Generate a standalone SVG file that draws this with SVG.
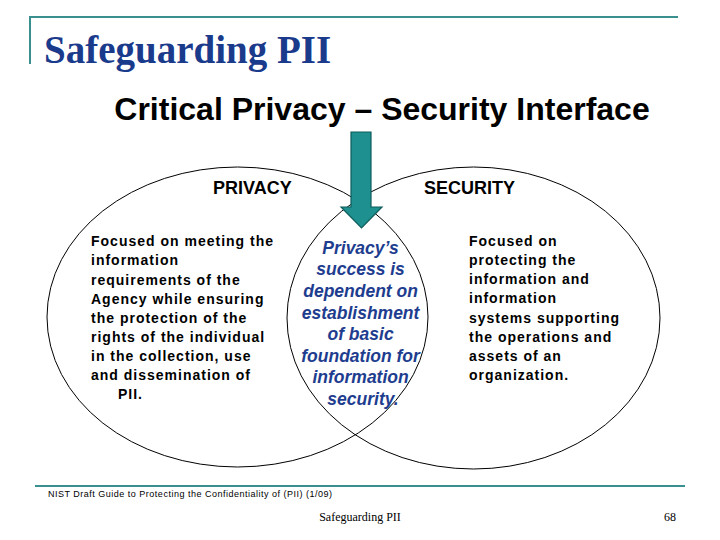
<svg xmlns="http://www.w3.org/2000/svg" width="720" height="540" viewBox="0 0 720 540">
<style>
.rule{stroke:#3a8f8f;stroke-width:2;fill:none}
.circ{fill:none;stroke:#000;stroke-width:1}
.body{font-family:"Liberation Sans",Arial,sans-serif;font-weight:bold;font-size:14px;letter-spacing:1px;fill:#000}
.head{font-family:"Liberation Sans",Arial,sans-serif;font-weight:bold;font-size:18px;fill:#000}
.mid{font-family:"Liberation Sans",Arial,sans-serif;font-weight:bold;font-style:italic;font-size:17.5px;fill:#1e3d8f;text-anchor:middle}
</style>
<rect width="720" height="540" fill="#fff"/>
<g id="frame">
<path class="rule" d="M30 64 V17 H678"/>
<path class="rule" d="M35 486 H685"/>
<text x="44" y="63" font-family="'Liberation Serif','Times New Roman',serif" font-weight="bold" font-size="39" fill="#1a3a8c">Safeguarding PII</text>
<text x="382" y="120" font-family="'Liberation Sans',Arial,sans-serif" font-weight="bold" font-size="32" text-anchor="middle" fill="#000">Critical Privacy – Security Interface</text>
</g>
<g id="privacy">
<ellipse class="circ" cx="237.5" cy="317" rx="190.5" ry="150"/>
<text class="head" x="213" y="194">PRIVACY</text>
<text class="body">
<tspan x="91" y="246">Focused on meeting the</tspan>
<tspan x="91" y="265">information</tspan>
<tspan x="91" y="285">requirements of the</tspan>
<tspan x="91" y="304">Agency while ensuring</tspan>
<tspan x="91" y="323">the protection of the</tspan>
<tspan x="91" y="342">rights of the individual</tspan>
<tspan x="91" y="361">in the collection, use</tspan>
<tspan x="91" y="380">and dissemination of</tspan>
<tspan x="118" y="399">PII.</tspan>
</text>
</g>
<g id="security">
<ellipse class="circ" cx="473.5" cy="318" rx="186.5" ry="151"/>
<text class="head" x="424" y="194">SECURITY</text>
<text class="body">
<tspan x="469" y="246">Focused on</tspan>
<tspan x="469" y="265">protecting the</tspan>
<tspan x="469" y="284">information and</tspan>
<tspan x="469" y="303">information</tspan>
<tspan x="469" y="323">systems supporting</tspan>
<tspan x="469" y="342">the operations and</tspan>
<tspan x="469" y="361">assets of an</tspan>
<tspan x="469" y="380">organization.</tspan>
</text>
</g>
<g id="interface">
<text class="mid">
<tspan x="363" y="254">Privacy’s</tspan>
<tspan x="363" y="275">success is</tspan>
<tspan x="363" y="297">dependent on</tspan>
<tspan x="363" y="319">establishment</tspan>
<tspan x="363" y="340">of basic</tspan>
<tspan x="363" y="362">foundation for</tspan>
<tspan x="363" y="383">information</tspan>
<tspan x="363" y="405">security.</tspan>
</text>
</g>
<g id="connectors">
<path d="M351 132 H371 V207 H382 L361.5 228 L341 207 H351 Z" fill="#1f9090" stroke="#0d5c5c" stroke-width="1.2"/>
</g>
<g id="footer">
<text x="48" y="497" font-family="'Liberation Sans',Arial,sans-serif" font-size="9" letter-spacing="0.5" fill="#000">NIST Draft Guide to Protecting the Confidentiality of  (PII) (1/09)</text>
<text x="360" y="521" font-family="'Liberation Serif','Times New Roman',serif" font-size="12" text-anchor="middle" fill="#000">Safeguarding PII</text>
<text x="676" y="521" font-family="'Liberation Serif','Times New Roman',serif" font-size="12" text-anchor="end" fill="#000">68</text>
</g>
</svg>
